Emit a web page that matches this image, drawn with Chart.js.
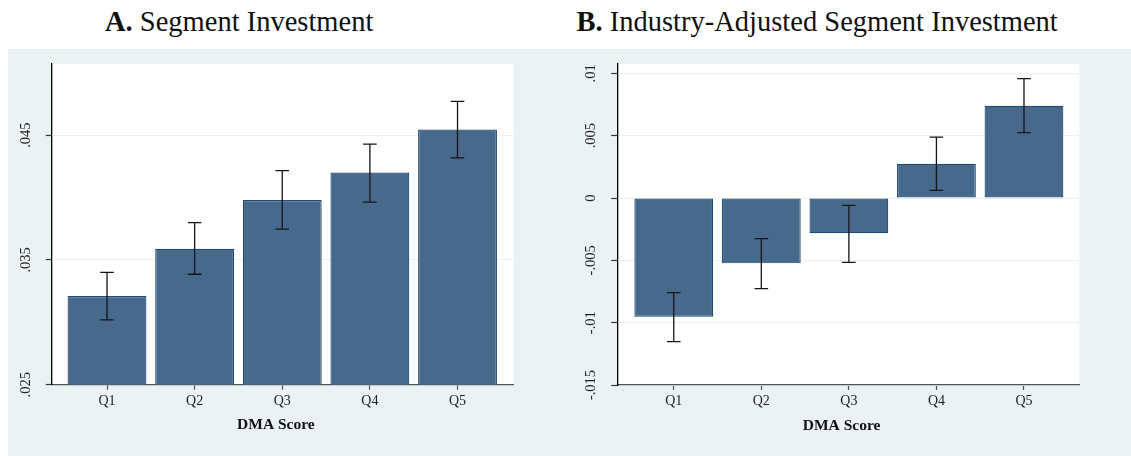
<!DOCTYPE html>
<html><head><meta charset="utf-8">
<script src="https://cdn.jsdelivr.net/npm/chart.js@4.4.1/dist/chart.umd.min.js"></script>
<style>
html,body{margin:0;padding:0;background:#fff;width:1131px;height:456px;overflow:hidden;position:relative;font-family:"Liberation Serif",serif}
#bg{position:absolute;left:8px;top:49px;width:1123px;height:407px;background:#eaf2f3}
.title{position:absolute;top:8.4px;font-size:28.5px;line-height:28.5px;white-space:nowrap;color:#111}
canvas{position:absolute;top:49px}
</style></head><body>
<div id="bg"></div>
<div class="title" style="left:105px"><b>A.</b> Segment Investment</div>
<div class="title" style="left:576.5px"><b>B.</b> Industry-Adjusted Segment Investment</div>
<canvas id="a" width="565" height="407" style="left:0"></canvas>
<canvas id="b" width="566" height="407" style="left:565px"></canvas>
<script>
const categories = ['Q1','Q2','Q3','Q4','Q5'];
const xAxisTitle = 'DMA Score';

// Panel A: Segment Investment
const segInv   = [0.0321, 0.0359, 0.0398, 0.0420, 0.04545];
const segInvLo = [0.0302, 0.03385, 0.03746, 0.03963, 0.04318];
const segInvHi = [0.0340, 0.03799, 0.04216, 0.04428, 0.04770];
const yTicksA  = [0.025, 0.035, 0.045];
const yLabelsA = ['.025', '.035', '.045'];

// Panel B: Industry-Adjusted Segment Investment
const adjInv   = [-0.00952, -0.00524, -0.00283, 0.00275, 0.0074];
const adjInvLo = [-0.01152, -0.00727, -0.00516, 0.00062, 0.00524];
const adjInvHi = [-0.00759, -0.00326, -0.00059, 0.00489, 0.00957];
const yTicksB  = [-0.015, -0.01, -0.005, 0, 0.005, 0.01];
const yLabelsB = ['-.015', '-.01', '-.005', '0', '.005', '.01'];

const FONT = '"Liberation Serif", serif';

function panelPlugin(tickVals, tickLabels, lo, hi) {
  return {
    id: 'panelPlugin',
    beforeDraw(chart) {
      const a = chart.chartArea, ctx = chart.ctx;
      ctx.save();
      ctx.fillStyle = '#ffffff';
      ctx.fillRect(a.left, a.top, a.right - a.left, a.bottom - a.top);
      ctx.restore();
    },
    afterDatasetsDraw(chart) {
      const ctx = chart.ctx, xs = chart.scales.x, ys = chart.scales.y;
      ctx.save();
      ctx.strokeStyle = '#151515';
      ctx.lineWidth = 1.3;
      for (let i = 0; i < lo.length; i++) {
        const px = xs.getPixelForValue(i + 1);
        const p1 = ys.getPixelForValue(lo[i]);
        const p2 = ys.getPixelForValue(hi[i]);
        ctx.beginPath();
        ctx.moveTo(px, p1); ctx.lineTo(px, p2);
        ctx.moveTo(px - 6.8, p1); ctx.lineTo(px + 6.8, p1);
        ctx.moveTo(px - 6.8, p2); ctx.lineTo(px + 6.8, p2);
        ctx.stroke();
      }
      ctx.restore();
    },
    afterDraw(chart) {
      const ctx = chart.ctx, ys = chart.scales.y, a = chart.chartArea;
      ctx.save();
      ctx.font = '14.5px ' + FONT;
      ctx.fillStyle = '#222';
      ctx.textAlign = 'center';
      ctx.textBaseline = 'middle';
      tickVals.forEach((v, i) => {
        const py = ys.getPixelForValue(v);
        ctx.save();
        ctx.translate(a.left - 25.8, py);
        ctx.rotate(-Math.PI / 2);
        ctx.fillText(tickLabels[i], 0, 0);
        ctx.restore();
      });
      ctx.font = 'bold 15.5px ' + FONT;
      ctx.fillStyle = '#111';
      ctx.textBaseline = 'alphabetic';
      ctx.fillText(xAxisTitle, (a.left + a.right) / 2 - 6.8, a.bottom + 44.6);
      ctx.restore();
    }
  };
}

function makeChart(id, vals, lo, hi, yMin, yMax, tickVals, tickLabels, xMin, xMax, pad) {
  return new Chart(document.getElementById(id), {
    type: 'bar',
    data: {
      datasets: [{
        data: vals.map((v, i) => ({x: i + 1, y: v})),
        backgroundColor: '#476a8c',
        borderColor: '#1f4a72',
        borderWidth: 1.2,
        borderSkipped: false,
        barPercentage: 0.9,
        categoryPercentage: 1.0
      }]
    },
    options: {
      responsive: false,
      animation: false,
      devicePixelRatio: 1,
      layout: {padding: pad},
      plugins: {legend: {display: false}, tooltip: {enabled: false}},
      scales: {
        x: {
          type: 'linear', min: xMin, max: xMax, offset: false,
          afterBuildTicks: (s) => { s.ticks = categories.map((c, i) => ({value: i + 1})); },
          afterFit: (s) => { s.height = 40; },
          ticks: {
            callback: (v) => categories[Math.round(v) - 1],
            font: {family: FONT, size: 14}, color: '#222', padding: 3,
            maxRotation: 0, minRotation: 0, autoSkip: false
          },
          grid: {offset: false, drawOnChartArea: false, drawTicks: true, tickLength: 5, tickColor: '#555', tickWidth: 1.2},
          border: {color: '#555', width: 1.3}
        },
        y: {
          type: 'linear', min: yMin, max: yMax,
          afterBuildTicks: (s) => { s.ticks = tickVals.map(v => ({value: v})); },
          afterFit: (s) => { s.width = 20; },
          ticks: {display: false},
          grid: {color: '#eaf2f3', lineWidth: 1, drawTicks: true, tickLength: 6, tickColor: '#333', tickWidth: 1.2},
          border: {color: '#000', width: 1.3}
        }
      }
    },
    plugins: [panelPlugin(tickVals, tickLabels, lo, hi)]
  });
}

makeChart('a', segInv, segInvLo, segInvHi, 0.025, 0.0507, yTicksA, yLabelsA, 0.37, 5.64,
  {left: 31.8, top: 15, right: 51.4, bottom: 31.3});
makeChart('b', adjInv, adjInvLo, adjInvHi, -0.015, 0.01075, yTicksB, yLabelsB, 0.354, 5.634,
  {left: 32.2, top: 15, right: 51.5, bottom: 31});
</script>
</body></html>
